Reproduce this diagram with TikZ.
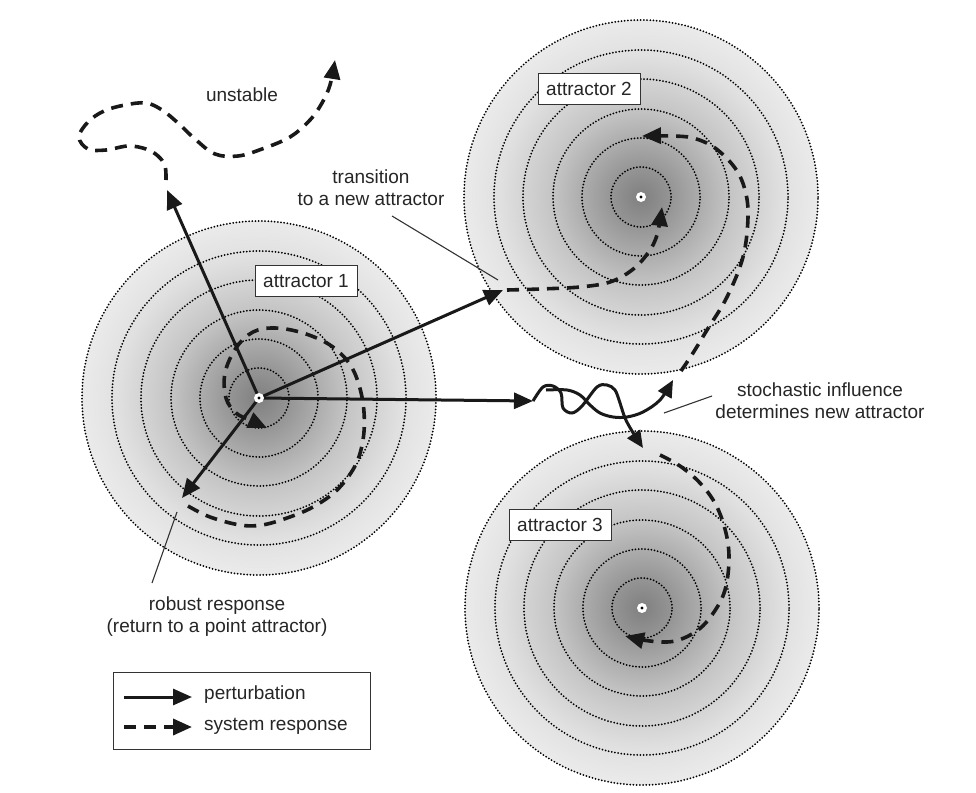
\documentclass[tikz,border=0pt]{standalone}
\usepackage{fontspec}
\setmainfont{Liberation Sans}
\usetikzlibrary{arrows.meta}

% radial fill of a basin: dark core fading to light grey at the rim
% (25bp is the rim of the filled circle)
\pgfdeclareradialshading{basin}{\pgfpoint{0bp}{0bp}}{%
  color(0bp)=(black!50); color(4bp)=(black!42); color(12.5bp)=(black!23);
  color(20bp)=(black!12); color(25bp)=(black!8); color(50bp)=(black!8)}

\begin{document}
\begin{tikzpicture}[x=1pt,y=-1pt,
  ring/.style={draw=black, line width=2pt, line cap=round, dash pattern=on 0pt off 3.2pt},
  perturb/.style={draw=black!90, line width=3pt, -{Triangle[length=19pt,width=16pt]}},
  wiggle/.style={draw=black!90, line width=3pt, -{Triangle[length=17pt,width=15pt]}},
  respond/.style={draw=black!90, line width=3.6pt, dash pattern=on 12pt off 8pt,
                  -{Triangle[length=19pt,width=16pt]}},
  leader/.style={draw=black!80, line width=1.1pt},
  txt/.style={font=\fontsize{19}{22}\selectfont, text=black!85},
  tag/.style={txt, draw=black!80, line width=1pt, fill=white, inner sep=0pt,
              minimum width=102pt, minimum height=31pt},
  note/.style={txt, align=center, inner sep=0pt}]

\useasboundingbox (0,0) rectangle (976,792);
\fill[white] (0,0) rectangle (976,792);

% attractor centres
\coordinate (A1) at (259,398);
\coordinate (A2) at (641,197);
\coordinate (A3) at (642,608);

% basins with dotted level rings
\foreach \c in {A1,A2,A3}{
  \shade[shading=basin] (\c) circle[radius=177pt];
  \foreach \r in {30,59,88,118,147,177}
    \draw[ring] (\c) circle[radius=\r pt];
}

% labels of the attractors
\node[tag] (lab1) at (306,281) {attractor 1};
\node[tag] (lab2) at (589,89) {attractor 2};
\node[tag] (lab3) at (560,525) {attractor 3};

% ends of the perturbations
\coordinate (tipUp) at (167,190);
\coordinate (tipT) at (503,290);
\coordinate (tipS) at (533,401);
\coordinate (tipR) at (182,498);
\coordinate (forkUp) at (673,380);
\coordinate (forkDown) at (643,448);
\coordinate (endU) at (335,60);
\coordinate (endR) at (267,428);
\coordinate (endT) at (662,207);
\coordinate (endS2) at (642,136);
\coordinate (endS3) at (625,636);

% perturbations
\draw[perturb] (A1) -- (tipUp);
\draw[perturb] (A1) -- (tipT);
\draw[perturb] (A1) -- (tipS);
\draw[perturb] (A1) -- (tipR);

% stochastic tangle and its two outcomes
\draw[wiggle] plot[smooth, tension=0.55] coordinates {(tipS) (543,387) (553,386) (561,393)
  (563,408) (572,413) (582,406) (597,387) (607,385) (615,390) (620,403) (625,418)
  (632,431) (forkDown)};
\draw[wiggle] plot[smooth, tension=0.55] coordinates {(546,390) (567,390) (580,395)
  (590,405) (600,413) (613,417) (627,417) (643,412) (660,400) (forkUp)};

% system responses
\draw[respond] plot[smooth, tension=0.6] coordinates {(166,180) (165,166) (158,156)
  (146,149) (128,146) (106,150) (88,149) (79,137) (88,122) (104,111) (125,105)
  (146,103) (162,110) (178,123) (195,139) (215,154) (238,156) (262,149) (290,137)
  (310,120) (322,103) (330,85) (endU)};
\draw[respond] plot[smooth, tension=0.6] coordinates {(188,506) (210,517) (240,525)
  (262,525) (287,518) (313,507) (337,490) (355,466) (363,440) (364,412) (359,385)
  (349,363) (330,345) (303,333) (275,328) (253,332) (236,348) (225,373) (226,398)
  (236,413) (250,420) (endR)};
\draw[respond] plot[smooth, tension=0.6] coordinates {(507,290) (540,289) (580,287)
  (610,282) (632,270) (648,253) (657,235) (endT)};
\draw[respond] plot[smooth, tension=0.6] coordinates {(681,371) (693,353) (707,330)
  (727,297) (743,257) (748,217) (745,190) (735,168) (715,148) (693,138) (670,136)
  (endS2)};
\draw[respond] plot[smooth, tension=0.6] coordinates {(660,455) (680,466) (700,483)
  (716,505) (726,533) (729,560) (725,590) (714,612) (698,630) (675,641) (650,641)
  (endS3)};

% centre points
\foreach \c in {A1,A2,A3}{
  \fill[white] (\c) circle[radius=5pt];
  \fill[black] (\c) circle[radius=1.7pt];
}

% annotations
\node[note] (unst) at (242,95) {unstable};
\node[note] (trans) at (371,188) {transition\\to a new attractor};
\node[note] (stoch) at (820,401) {stochastic influence\\determines new attractor};
\node[note] (robust) at (217,617) {robust response\\(return to a point attractor)};

\coordinate (transA) at (392,216);
\coordinate (transB) at (498,280);
\coordinate (stochA) at (712,396);
\coordinate (stochB) at (664,413);
\coordinate (robA) at (177,512);
\coordinate (robB) at (152,583);
\draw[leader] (transA) -- (transB);
\draw[leader] (stochA) -- (stochB);
\draw[leader] (robA) -- (robB);

% legend
\node[draw=black!80, line width=1pt, minimum width=257pt, minimum height=77pt,
      inner sep=0pt] (legend) at (241.5,710.5) {};
\coordinate (leg1a) at (124,697);
\coordinate (leg1b) at (192,697);
\coordinate (leg2a) at (124,727);
\coordinate (leg2b) at (192,727);
\draw[perturb] (leg1a) -- (leg1b);
\draw[respond] (leg2a) -- (leg2b);
\node[txt, anchor=west, inner sep=0pt] (legT1) at (204,695) {perturbation};
\node[txt, anchor=west, inner sep=0pt] (legT2) at (204,726) {system response};

\end{tikzpicture}
\end{document}
